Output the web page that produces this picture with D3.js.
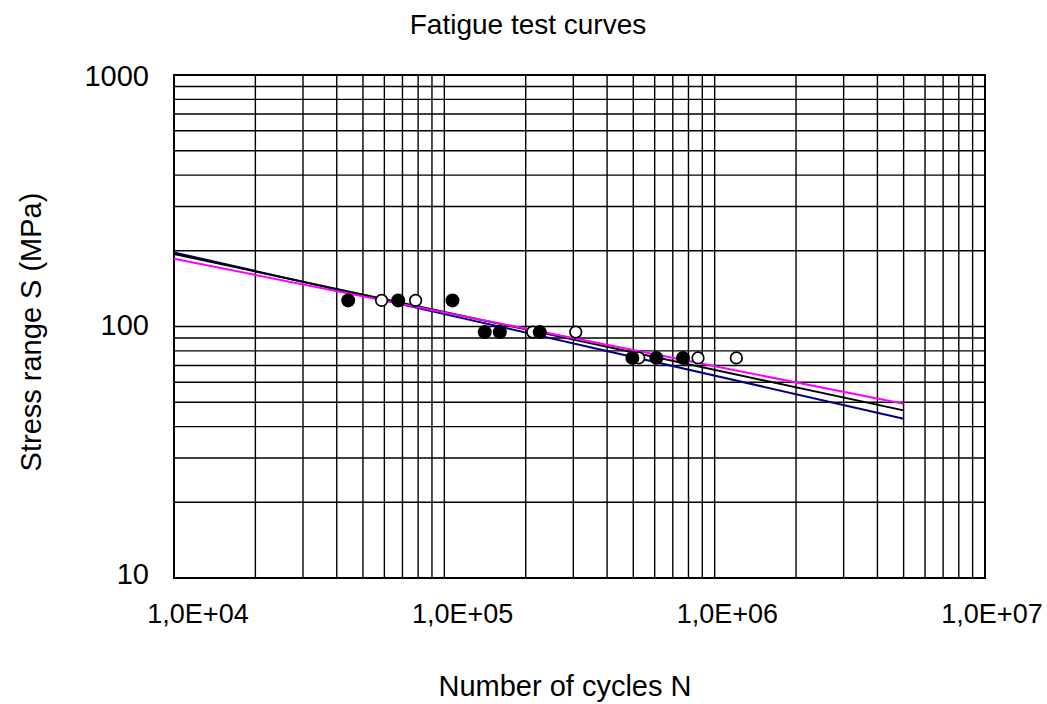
<!DOCTYPE html>
<html><head><meta charset="utf-8">
<script src="https://cdn.jsdelivr.net/npm/d3@7"></script>
<style>body{margin:0;background:#fff}text{font-family:"Liberation Sans",Arial,sans-serif;fill:#000}</style>
</head><body><svg id="c" width="1047" height="704"></svg>
<script>
const filledN = [44100, 67500, 107200, 141100, 160400, 225400, 496200, 608600, 763600];
const filledS = [127, 127, 127, 95, 95, 95, 75, 75, 75];
const openN = [58600, 78300, 212400, 306300, 523600, 867700, 1203000];
const openS = [127, 127, 95, 95, 75, 75, 75];
const lineN = [1e4, 5e6];
const lineBlue = [197, 43.0];
const lineBlack = [194.2, 46.4];
const lineMagenta = [185.9, 49.3];
const xTickValues = [1e4, 1e5, 1e6, 1e7];
const xTickLabels = ["1,0E+04", "1,0E+05", "1,0E+06", "1,0E+07"];
const yTickValues = [10, 100, 1000];
const yTickLabels = ["10", "100", "1000"];

const svg = d3.select("#c");
const L = 174, R = 985, T = 75, B = 578;
const x = d3.scaleLog().domain([1e4, 1e7]).range([L, R]);
const y = d3.scaleLog().domain([10, 1000]).range([B, T]);
const xLab = d3.scaleLog().domain([1e4, 1e7]).range([198, 992]);
const yLab = d3.scaleLog().domain([10, 1000]).range([584, 86]);

const g = svg.append("g");
const xGrid = [];
for (let e = 4; e < 7; e++) for (let k = 2; k <= 9; k++) xGrid.push(k * Math.pow(10, e));
const yGrid = [];
for (let e = 1; e < 3; e++) for (let k = 1; k <= 9; k++) yGrid.push(k * Math.pow(10, e));
g.selectAll(".xg").data(xGrid.concat([1e5, 1e6])).join("line")
  .attr("x1", d => x(d)).attr("x2", d => x(d)).attr("y1", T).attr("y2", B)
  .attr("stroke", "#000").attr("stroke-width", 1.4);
g.selectAll(".yg").data(yGrid).join("line")
  .attr("y1", d => y(d)).attr("y2", d => y(d)).attr("x1", L).attr("x2", R)
  .attr("stroke", "#000").attr("stroke-width", 1.4);
g.append("rect").attr("x", L).attr("y", T).attr("width", R - L).attr("height", B - T)
  .attr("fill", "none").attr("stroke", "#000").attr("stroke-width", 2);

const lines = [[lineBlue, "#000080"], [lineBlack, "#000"], [lineMagenta, "#ff00ff"]];
const lg = d3.line().x(d => x(d[0])).y(d => y(d[1]));
lines.forEach(([vals, col]) => {
  g.append("path").datum(lineN.map((n, i) => [n, vals[i]]))
    .attr("d", lg).attr("fill", "none").attr("stroke", col).attr("stroke-width", 2);
});

g.selectAll(".op").data(openN.map((n, i) => [n, openS[i]])).join("circle")
  .attr("cx", d => x(d[0])).attr("cy", d => y(d[1])).attr("r", 5.8)
  .attr("fill", "#fff").attr("stroke", "#000").attr("stroke-width", 1.7);
g.selectAll(".fp").data(filledN.map((n, i) => [n, filledS[i]])).join("circle")
  .attr("cx", d => x(d[0])).attr("cy", d => y(d[1])).attr("r", 7)
  .attr("fill", "#000");

svg.selectAll(".xt").data(xTickValues).join("text")
  .attr("x", d => xLab(d)).attr("y", 623).attr("text-anchor", "middle")
  .attr("font-size", 27).text((d, i) => xTickLabels[i]);
svg.selectAll(".yt").data(yTickValues).join("text")
  .attr("x", 149).attr("y", d => yLab(d)).attr("text-anchor", "end")
  .attr("font-size", 29).text((d, i) => yTickLabels[i]);

svg.append("text").attr("x", 528).attr("y", 34).attr("text-anchor", "middle")
  .attr("font-size", 28).text("Fatigue test curves");
svg.append("text").attr("x", 565).attr("y", 696).attr("text-anchor", "middle")
  .attr("font-size", 29).text("Number of cycles N");
svg.append("text").attr("transform", "translate(41,332) rotate(-90)").attr("text-anchor", "middle")
  .attr("font-size", 29).text("Stress range S (MPa)");
</script></body></html>
